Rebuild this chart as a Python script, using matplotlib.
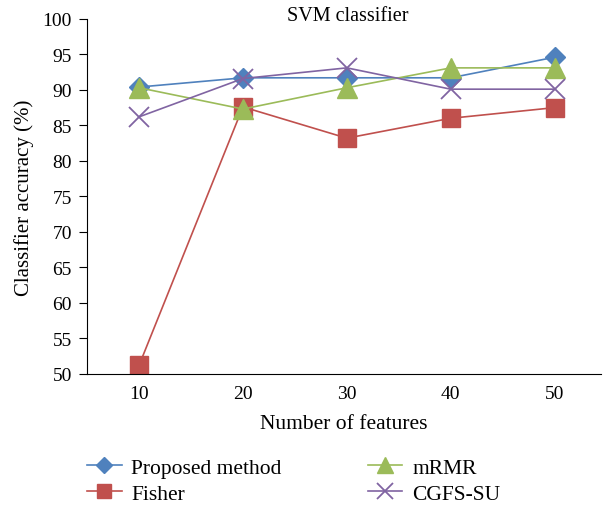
import matplotlib.pyplot as plt

plt.rcParams['font.family'] = ['Liberation Serif', 'DejaVu Serif']

features = ['10', '20', '30', '40', '50']
proposed = [90.4, 91.7, 91.7, 91.7, 94.6]
fisher = [51.2, 87.6, 83.2, 86.0, 87.5]
mrmr = [90.3, 87.3, 90.3, 93.1, 93.1]
cgfs_su = [86.2, 91.6, 93.1, 90.1, 90.1]

fig = plt.figure(figsize=(6.05, 5.1), dpi=100)
ax = fig.add_axes([0.144, 0.265, 0.85, 0.696])

x = range(len(features))
l1, = ax.plot(x, proposed, '-D', color='#4F81BD', ms=10, lw=1.2, label='Proposed method')
l2, = ax.plot(x, fisher, '-s', color='#C0504D', ms=13, lw=1.2, label='Fisher')
l3, = ax.plot(x, mrmr, '-^', color='#9BBB59', ms=14, lw=1.2, label='mRMR')
l4, = ax.plot(x, cgfs_su, '-x', color='#8064A2', ms=14, mew=1.3, lw=1.2, label='CGFS-SU')

ax.set_xlim(-0.5, 4.45)
ax.set_ylim(50, 100)
ax.set_xticks(list(x))
ax.set_xticklabels(features)
ax.set_yticks(range(50, 101, 5))
ax.tick_params(axis='y', direction='out', length=6, labelsize=14, pad=5)
ax.tick_params(axis='x', length=0, labelsize=14, pad=8)
ax.spines['top'].set_visible(False)
ax.spines['right'].set_visible(False)
ax.set_xlabel('Number of features', fontsize=15.5, labelpad=9)
ax.set_ylabel('Classifier accuracy (%)', fontsize=15, labelpad=6)
fig.text(0.575, 0.968, 'SVM classifier', ha='center', va='center', fontsize=14.5)

fig.legend(handles=[l1, l2, l3, l4], loc='upper left', bbox_to_anchor=(0.130, 0.118),
           ncol=2, frameon=False, fontsize=15.5, columnspacing=4.0,
           handlelength=1.6, handletextpad=0.45, labelspacing=0.3, borderaxespad=0,
           markerscale=0.8)

fig.savefig('out.png', dpi=100)
